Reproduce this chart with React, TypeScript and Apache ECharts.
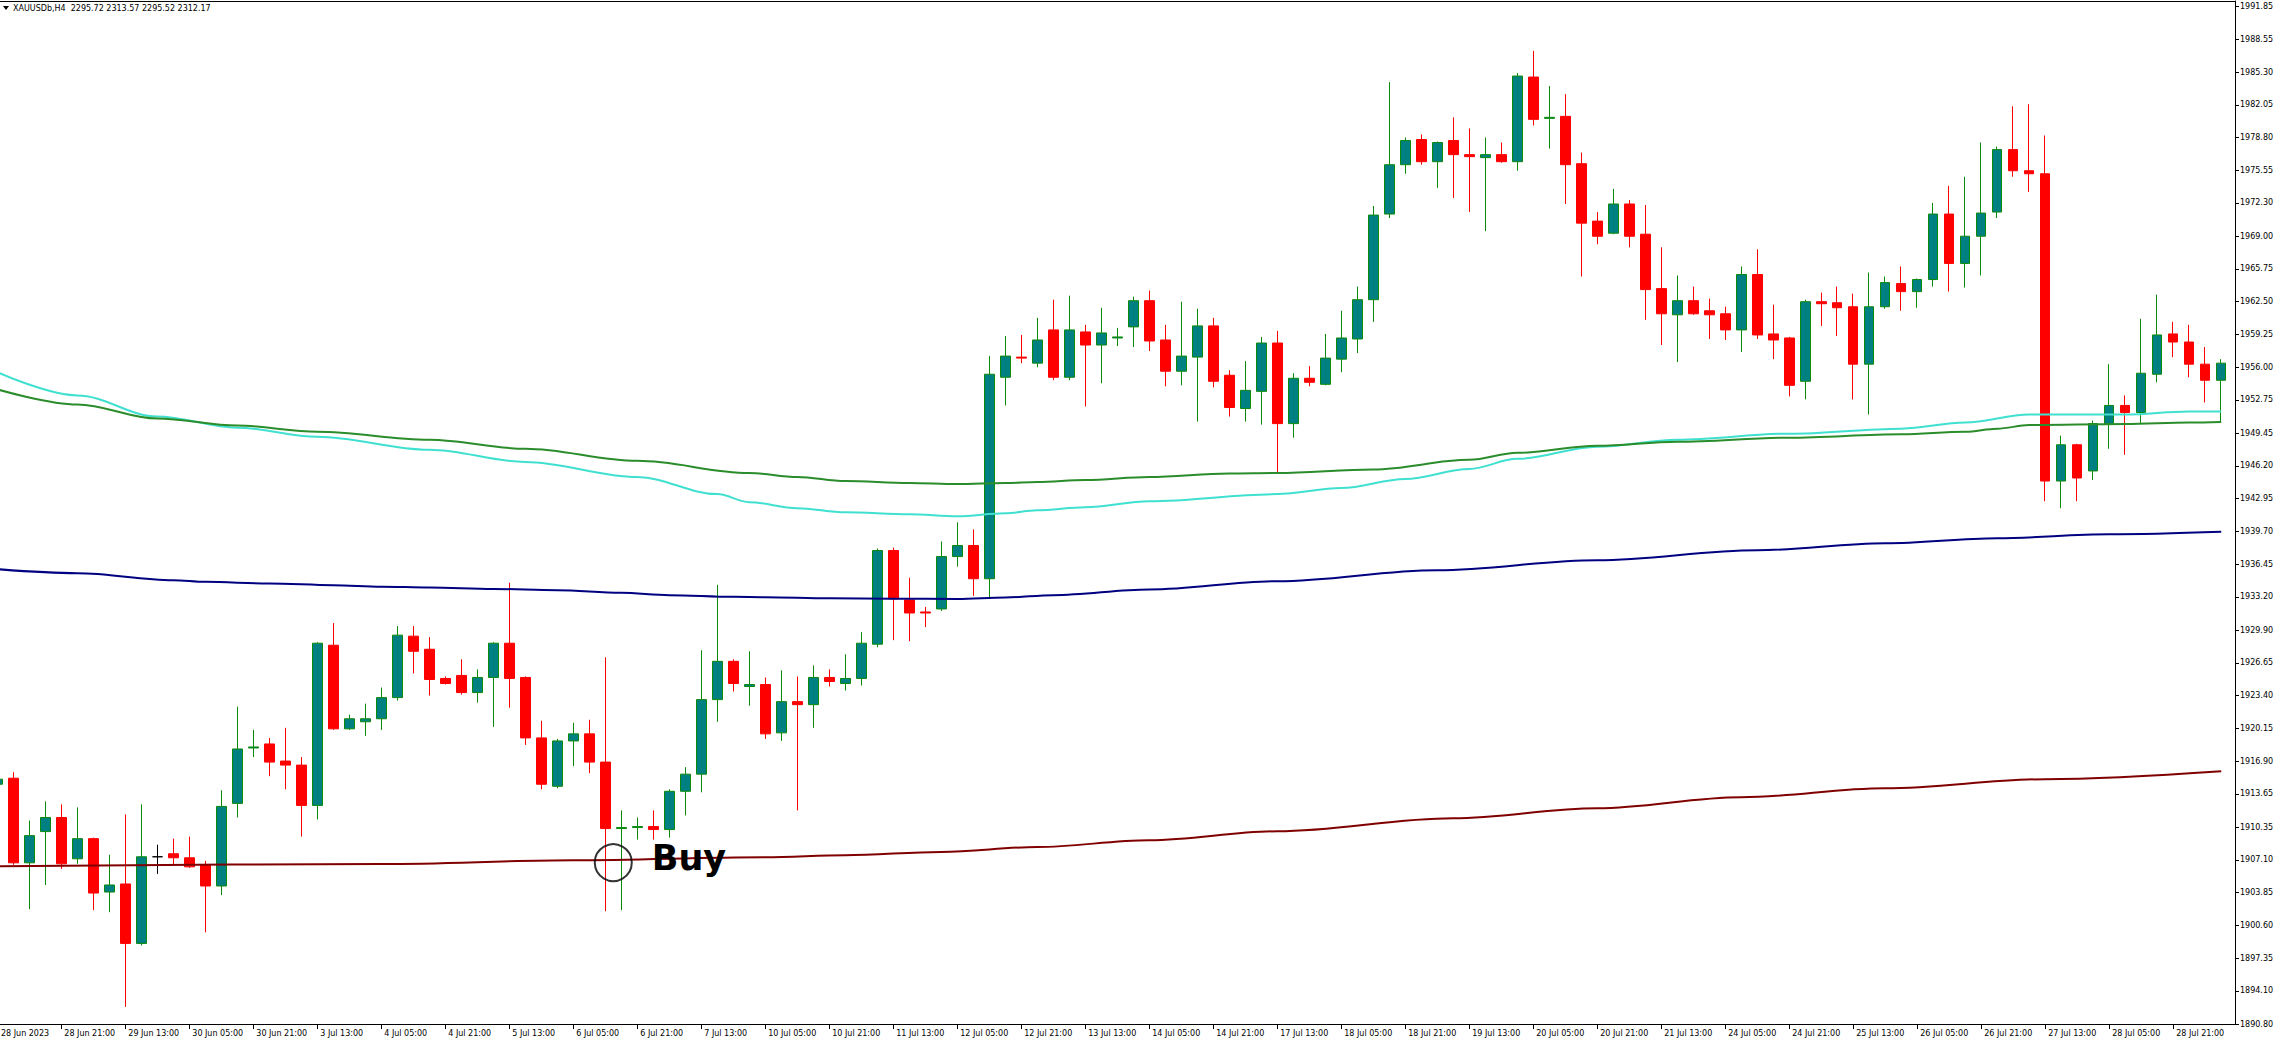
import React, { useEffect, useRef } from 'react';
import * as echarts from 'echarts';

// ---- candle data (bar index = position in arrays) ----
const opens = [
  1914.6, 1915.2, 1906.8, 1909.9, 1911.3, 1907.2, 1909.2, 1903.9, 1904.7, 1898.8,
  1907.4, 1907.7, 1907.3, 1906.6, 1904.5, 1912.7, 1918.2, 1918.6, 1916.9, 1916.5,
  1912.5, 1928.4, 1920.1, 1920.8, 1921.1, 1923.2, 1929.3, 1928.0, 1925.1, 1925.4,
  1923.7, 1925.2, 1928.6, 1925.2, 1919.2, 1914.4, 1918.9, 1919.6, 1916.8, 1910.2,
  1910.3, 1910.4, 1910.1, 1913.9, 1915.6, 1923.0, 1926.8, 1924.3, 1924.5, 1919.7,
  1922.8, 1922.5, 1925.2, 1924.6, 1925.1, 1928.5, 1937.8, 1932.9, 1931.7, 1932.0,
  1937.2, 1938.3, 1935.0, 1955.0, 1957.0, 1956.4, 1959.7, 1955.0, 1959.5, 1958.2,
  1958.9, 1960.0, 1962.6, 1958.7, 1955.6, 1957.0, 1960.1, 1955.2, 1951.9, 1953.6,
  1958.4, 1950.4, 1954.9, 1954.3, 1956.8, 1958.8, 1962.7, 1971.2, 1976.1, 1978.6,
  1976.4, 1978.5, 1977.1, 1976.8, 1977.1, 1976.4, 1984.8, 1980.7, 1980.9, 1976.2,
  1970.5, 1969.3, 1972.2, 1969.2, 1963.8, 1961.2, 1962.6, 1961.6, 1961.3, 1959.7,
  1965.2, 1959.3, 1958.9, 1954.6, 1962.5, 1962.4, 1962.0, 1956.3, 1962.0, 1964.3,
  1963.5, 1964.7, 1971.2, 1966.3, 1969.0, 1971.4, 1977.6, 1975.5, 1975.2, 1944.7,
  1948.3, 1945.7, 1950.4, 1952.2, 1951.5, 1955.3, 1959.3, 1958.5, 1956.3, 1954.7,
];
const closes = [
  1915.1, 1906.8, 1909.5, 1911.3, 1906.7, 1909.2, 1903.8, 1904.6, 1898.8, 1907.4,
  1907.4, 1907.3, 1906.4, 1904.5, 1912.4, 1918.1, 1918.3, 1916.8, 1916.5, 1912.5,
  1928.6, 1920.1, 1921.1, 1921.1, 1923.2, 1929.4, 1927.8, 1925.0, 1924.6, 1923.7,
  1925.2, 1928.6, 1925.1, 1919.2, 1914.6, 1918.9, 1919.6, 1916.8, 1910.2, 1910.3,
  1910.4, 1910.1, 1913.9, 1915.6, 1923.0, 1926.8, 1924.6, 1924.5, 1919.6, 1922.8,
  1922.5, 1925.2, 1924.8, 1925.1, 1928.6, 1937.8, 1933.0, 1931.6, 1931.6, 1937.2,
  1938.3, 1935.0, 1955.3, 1957.1, 1956.9, 1958.7, 1955.0, 1959.7, 1958.2, 1959.4,
  1959.0, 1962.6, 1958.6, 1955.6, 1957.1, 1960.1, 1954.6, 1952.0, 1953.7, 1958.4,
  1950.4, 1954.9, 1954.5, 1956.9, 1958.9, 1962.7, 1971.1, 1976.1, 1978.5, 1976.4,
  1978.3, 1977.1, 1976.9, 1977.1, 1976.4, 1984.9, 1980.6, 1980.8, 1976.1, 1970.3,
  1969.0, 1972.2, 1969.0, 1963.7, 1961.3, 1962.6, 1961.3, 1961.2, 1959.7, 1965.2,
  1959.2, 1958.7, 1954.2, 1962.5, 1962.3, 1961.9, 1956.3, 1962.0, 1964.4, 1963.5,
  1964.7, 1971.2, 1966.3, 1969.0, 1971.3, 1977.6, 1975.5, 1975.2, 1944.7, 1948.3,
  1945.0, 1950.4, 1952.2, 1951.5, 1955.4, 1959.2, 1958.5, 1956.3, 1954.7, 1956.4,
];
const lows = [
  1914.2, 1906.6, 1902.2, 1904.6, 1906.2, 1906.7, 1902.1, 1901.9, 1892.5, 1898.6,
  1905.7, 1906.6, 1906.3, 1899.9, 1903.6, 1911.3, 1917.3, 1915.4, 1914.1, 1909.4,
  1911.1, 1920.0, 1920.0, 1919.4, 1920.0, 1922.9, 1925.6, 1923.4, 1924.5, 1923.5,
  1922.7, 1920.3, 1922.2, 1918.5, 1914.1, 1914.2, 1916.4, 1915.7, 1902.0, 1902.1,
  1909.1, 1909.1, 1909.3, 1911.5, 1913.8, 1920.8, 1923.8, 1922.4, 1919.1, 1918.9,
  1912.0, 1920.2, 1924.3, 1923.9, 1924.4, 1928.2, 1928.9, 1928.8, 1930.2, 1931.8,
  1936.2, 1933.3, 1933.1, 1952.2, 1956.4, 1956.0, 1954.7, 1954.7, 1952.1, 1954.4,
  1958.1, 1958.0, 1957.6, 1954.1, 1954.2, 1950.6, 1954.0, 1951.1, 1950.6, 1950.3,
  1945.5, 1949.0, 1954.1, 1954.2, 1955.5, 1957.4, 1960.5, 1970.8, 1975.2, 1976.1,
  1973.8, 1972.8, 1971.4, 1969.5, 1976.3, 1975.5, 1980.0, 1977.7, 1972.2, 1965.0,
  1968.2, 1969.2, 1967.9, 1960.7, 1958.2, 1956.5, 1961.2, 1958.8, 1958.7, 1957.5,
  1958.8, 1956.8, 1953.1, 1952.8, 1960.1, 1959.1, 1952.8, 1951.3, 1961.8, 1961.6,
  1961.9, 1964.0, 1963.5, 1963.9, 1965.1, 1970.8, 1974.9, 1973.4, 1942.7, 1942.0,
  1942.7, 1944.8, 1947.9, 1947.3, 1950.4, 1954.5, 1957.0, 1955.0, 1952.5, 1950.5,
];
const highs = [
  1915.5, 1915.8, 1911.0, 1912.9, 1912.6, 1912.3, 1909.3, 1907.6, 1911.6, 1912.6,
  1908.6, 1909.2, 1909.4, 1907.0, 1914.0, 1922.3, 1920.0, 1919.2, 1920.2, 1917.3,
  1928.7, 1930.6, 1921.5, 1922.6, 1924.2, 1930.3, 1930.3, 1929.2, 1925.3, 1927.0,
  1926.0, 1928.7, 1934.6, 1925.3, 1920.9, 1919.1, 1920.7, 1921.0, 1927.2, 1912.0,
  1911.3, 1912.0, 1914.1, 1916.3, 1927.9, 1934.4, 1927.0, 1927.8, 1925.2, 1925.9,
  1925.3, 1926.4, 1926.0, 1927.5, 1929.7, 1938.0, 1938.1, 1935.1, 1932.2, 1938.7,
  1940.6, 1939.9, 1957.1, 1959.1, 1959.2, 1960.9, 1962.7, 1963.1, 1960.2, 1961.9,
  1959.9, 1963.0, 1963.6, 1960.2, 1962.5, 1961.8, 1960.9, 1955.7, 1956.6, 1959.0,
  1959.6, 1955.4, 1956.1, 1959.3, 1961.6, 1964.0, 1972.0, 1984.3, 1978.8, 1979.1,
  1978.4, 1980.8, 1979.7, 1978.8, 1978.3, 1985.2, 1987.4, 1983.9, 1983.1, 1977.3,
  1971.4, 1973.7, 1972.6, 1972.1, 1967.9, 1965.1, 1964.0, 1962.8, 1962.0, 1966.0,
  1967.7, 1962.2, 1959.0, 1962.7, 1963.4, 1964.0, 1963.3, 1965.4, 1965.0, 1966.0,
  1964.8, 1972.3, 1974.0, 1974.9, 1978.3, 1977.9, 1981.9, 1982.1, 1979.0, 1949.2,
  1948.4, 1950.7, 1956.3, 1953.2, 1960.8, 1963.2, 1960.5, 1960.2, 1958.0, 1956.8,
];

// ---- time labels, one per 4 bars, starting at bar 0 ----
const timeLabels = [
  '28 Jun 2023', '28 Jun 21:00', '29 Jun 13:00', '30 Jun 05:00', '30 Jun 21:00',
  '3 Jul 13:00', '4 Jul 05:00', '4 Jul 21:00', '5 Jul 13:00', '6 Jul 05:00',
  '6 Jul 21:00', '7 Jul 13:00', '10 Jul 05:00', '10 Jul 21:00', '11 Jul 13:00',
  '12 Jul 05:00', '12 Jul 21:00', '13 Jul 13:00', '14 Jul 05:00', '14 Jul 21:00',
  '17 Jul 13:00', '18 Jul 05:00', '18 Jul 21:00', '19 Jul 13:00', '20 Jul 05:00',
  '20 Jul 21:00', '21 Jul 13:00', '24 Jul 05:00', '24 Jul 21:00', '25 Jul 13:00',
  '26 Jul 05:00', '26 Jul 21:00', '27 Jul 13:00', '28 Jul 05:00', '28 Jul 21:00',
];

// ---- price scale labels ----
const priceTicks = [
  1991.85, 1988.55, 1985.3, 1982.05, 1978.8, 1975.55, 1972.3, 1969.0, 1965.75, 1962.5,
  1959.25, 1956.0, 1952.75, 1949.45, 1946.2, 1942.95, 1939.7, 1936.45, 1933.2, 1929.9,
  1926.65, 1923.4, 1920.15, 1916.9, 1913.65, 1910.35, 1907.1, 1903.85, 1900.6, 1897.35,
  1894.1, 1890.8,
];

// ---- moving averages (sampled at bar indices) ----
const maCyanIdx = [0, 5, 10, 15, 20, 27, 33, 40, 45, 47, 50, 53, 57, 60, 63, 65, 68, 72, 80, 84, 88, 92, 95, 100, 105, 112, 119, 123, 127, 133, 137, 139];
const maCyanVal = [1955.5, 1953.2, 1951.1, 1950.0, 1949.1, 1947.8, 1946.6, 1945.1, 1943.4, 1942.6, 1942.0, 1941.6, 1941.4, 1941.2, 1941.5, 1941.8, 1942.1, 1942.7, 1943.4, 1944.0, 1944.9, 1945.9, 1946.9, 1948.1, 1948.8, 1949.4, 1949.9, 1950.5, 1951.3, 1951.3, 1951.6, 1951.6];
const maGreenIdx = [0, 5, 10, 15, 20, 27, 33, 40, 47, 50, 53, 57, 60, 63, 65, 68, 72, 77, 80, 86, 92, 95, 100, 105, 112, 119, 123, 125, 127, 133, 137, 139];
const maGreenVal = [1953.8, 1952.3, 1950.9, 1950.2, 1949.6, 1948.8, 1947.9, 1946.7, 1945.5, 1945.1, 1944.7, 1944.5, 1944.4, 1944.5, 1944.6, 1944.8, 1945.1, 1945.45, 1945.5, 1945.85, 1946.8, 1947.5, 1948.2, 1948.6, 1949.0, 1949.35, 1949.6, 1949.9, 1950.25, 1950.35, 1950.5, 1950.55];
const maBlueIdx = [0, 5, 11, 13, 17, 21, 24, 27, 31, 35, 39, 42, 46, 48, 52, 56, 60, 63, 66, 72, 80, 90, 100, 110, 118, 125, 132, 139];
const maBlueVal = [1935.95, 1935.55, 1934.86, 1934.69, 1934.53, 1934.36, 1934.21, 1934.13, 1933.99, 1933.86, 1933.6, 1933.37, 1933.2, 1933.17, 1933.07, 1933.02, 1933.0, 1933.14, 1933.37, 1933.93, 1934.76, 1935.85, 1936.84, 1937.83, 1938.53, 1939.03, 1939.42, 1939.67];
const maRedIdx = [0, 24, 36, 48, 53, 59, 65, 72, 80, 91, 100, 109, 118, 128, 139];
const maRedVal = [1906.46, 1906.68, 1907.05, 1907.35, 1907.55, 1907.88, 1908.37, 1909.04, 1909.93, 1911.22, 1912.22, 1913.31, 1914.2, 1915.1, 1915.89];

// ---- Buy marker ----
const buyPoint = [38.5, 1906.82];

const TITLE = 'XAUUSDb,H4  2295.72 2313.57 2295.52 2312.17';
const X_MIN = 0.169;
const X_MAX = 139.86;
const Y_MIN = 1890.8;
const Y_MAX = 1992.35;
const AXIS_FONT = '"DejaVu Sans", "Liberation Sans", sans-serif';

export default function App() {
  const ref = useRef<HTMLDivElement>(null);

  useEffect(() => {
    if (!ref.current) return;
    const chart = echarts.init(ref.current, undefined, { renderer: 'svg' });

    const candleData = opens.map((o, i) => [i, o, closes[i], lows[i], highs[i]]);
    const pairs = (idx: number[], val: number[]) => idx.map((x, k) => [x, val[k]]);
    const timeTickIdx = timeLabels.map((_, k) => k * 4).filter((v) => v > 0);

    const lineSeries = (name: string, data: number[][], color: string) => ({
      type: 'line',
      name,
      data,
      showSymbol: false,
      symbol: 'none',
      smooth: 0.35,
      smoothMonotone: 'x',
      lineStyle: { color, width: 2 },
      silent: true,
      z: 3,
    });

    chart.setOption({
      animation: false,
      backgroundColor: '#ffffff',
      grid: { left: 0, right: 42, top: 1, bottom: 24, containLabel: false, outerBoundsMode: 'none' },
      xAxis: [
        {
          type: 'value',
          min: X_MIN,
          max: X_MAX,
          position: 'bottom',
          axisLine: { show: true, onZero: false, lineStyle: { color: '#000', width: 1 } },
          axisTick: { show: true, customValues: timeTickIdx, length: 5, lineStyle: { color: '#000' } },
          axisLabel: {
            show: true,
            customValues: timeTickIdx,
            formatter: (v: number) => timeLabels[Math.round(v / 4)] ?? '',
            align: 'left',
            padding: [0, 0, 0, 3],
            margin: 5,
            color: '#000',
            fontSize: 8,
            fontFamily: AXIS_FONT,
          },
          splitLine: { show: false },
        },
        {
          type: 'value',
          min: X_MIN,
          max: X_MAX,
          position: 'top',
          axisLine: { show: true, onZero: false, lineStyle: { color: '#000', width: 1 } },
          axisTick: { show: false },
          axisLabel: { show: false },
          splitLine: { show: false },
        },
      ],
      yAxis: {
        type: 'value',
        position: 'right',
        min: Y_MIN,
        max: Y_MAX,
        axisLine: { show: true, onZero: false, lineStyle: { color: '#000', width: 1 } },
        axisTick: { show: true, customValues: priceTicks, length: 4, lineStyle: { color: '#000' } },
        axisLabel: {
          show: true,
          customValues: priceTicks,
          formatter: (v: number) => v.toFixed(2),
          margin: 5,
          color: '#000',
          fontSize: 8,
          fontFamily: AXIS_FONT,
        },
        splitLine: { show: false },
      },
      graphic: [
        {
          type: 'polygon',
          shape: { points: [[3, 6], [9, 6], [6, 10]] },
          style: { fill: '#000' },
          silent: true,
        },
        {
          type: 'text',
          x: 13,
          y: 8.5,
          style: { text: TITLE, fontSize: 8, fontFamily: AXIS_FONT, fill: '#000', textVerticalAlign: 'middle' },
          silent: true,
        },
        {
          type: 'text',
          x: 1,
          y: 1029,
          style: { text: timeLabels[0], fontSize: 8, fontFamily: AXIS_FONT, fill: '#000', textVerticalAlign: 'top' },
          silent: true,
        },
      ],
      series: [
        {
          type: 'candlestick',
          data: candleData,
          encode: { x: 0, y: [1, 2, 3, 4] },
          barWidth: 10,
          silent: true,
          z: 2,
          itemStyle: {
            color: '#008080',
            color0: '#ff0000',
            borderColor: '#0a8a0a',
            borderColor0: '#ff0000',
            borderColorDoji: '#000000',
            borderWidth: 1,
          },
        },
        lineSeries('MA turquoise', pairs(maCyanIdx, maCyanVal), '#40e0d0'),
        lineSeries('MA green', pairs(maGreenIdx, maGreenVal), '#2a8c2a'),
        lineSeries('MA navy', pairs(maBlueIdx, maBlueVal), '#000080'),
        lineSeries('MA maroon', pairs(maRedIdx, maRedVal), '#800000'),
        {
          type: 'scatter',
          data: [buyPoint],
          symbol: 'circle',
          symbolSize: 37,
          silent: true,
          z: 5,
          itemStyle: { color: 'rgba(0,0,0,0)', borderColor: '#000', borderWidth: 2 },
          label: {
            show: true,
            position: 'right',
            distance: 19,
            formatter: 'Buy',
            fontSize: 35,
            fontWeight: 'bold',
            fontFamily: '"DejaVu Sans", "Liberation Sans", sans-serif',
            color: '#000000',
            textBorderWidth: 0,
            opacity: 1,
            offset: [0, -5],
          },
        },
      ],
    });

    return () => chart.dispose();
  }, []);

  return (
    <div
      ref={ref}
      style={{ position: 'absolute', left: 0, top: 0, width: 2277, height: 1048, background: '#fff' }}
    />
  );
}
